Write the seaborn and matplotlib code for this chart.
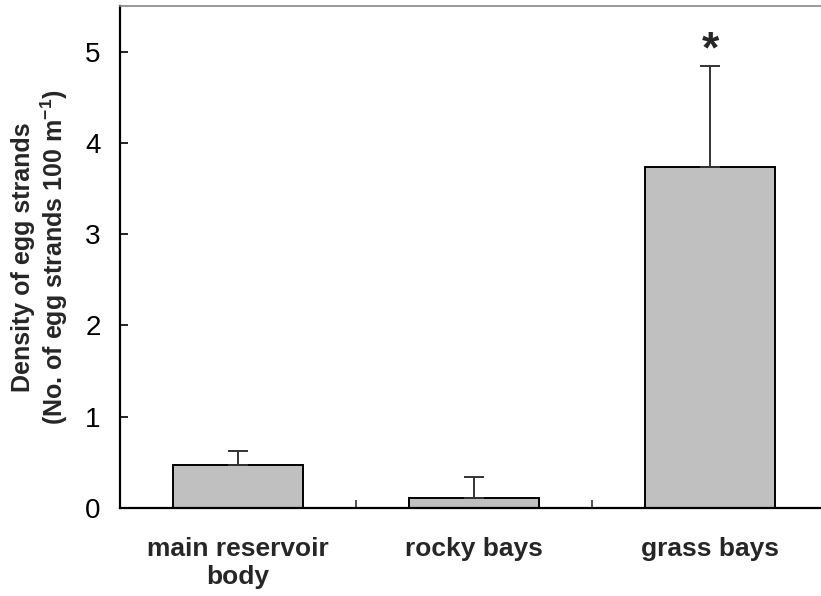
import matplotlib
matplotlib.use("Agg")
import matplotlib.pyplot as plt
import seaborn as sns
import pandas as pd

# Mean density of egg strands per habitat, with the upper standard error
habitats = ["main reservoir\nbody", "rocky bays", "grass bays"]
density = [0.47, 0.11, 3.74]
std_err = [0.15, 0.23, 1.10]
significant = [False, False, True]

sns.set_theme(style="white")
plt.rcParams["font.family"] = ["Liberation Sans", "DejaVu Sans"]
plt.rcParams["mathtext.default"] = "regular"

df = pd.DataFrame({"habitat": habitats, "density": density})

W, H = 821, 596
fig = plt.figure(figsize=(W / 100, H / 100), dpi=100)
ax = fig.add_axes([120 / W, 88 / H, 708 / W, 502 / H])

sns.barplot(data=df, x="habitat", y="density", color="#c0c0c0",
            edgecolor="black", linewidth=1.4, width=0.555,
            saturation=1, errorbar=None, ax=ax)

xs = list(range(len(habitats)))
ax.errorbar(xs, density, yerr=[[0] * len(std_err), std_err], fmt="none",
            ecolor="#333333", elinewidth=1.4, capsize=7, capthick=1.4)

for x, m, e, sig in zip(xs, density, std_err, significant):
    if sig:
        ax.annotate("*", (x, m + e), xytext=(0, -4), textcoords="offset points",
                    ha="center", va="bottom", fontsize=32, fontweight="bold")

ax.set_xlim(-0.5, 2.5)
ax.set_ylim(0, 5.5)
ax.set_yticks([0, 1, 2, 3, 4, 5])
ax.tick_params(axis="y", direction="in", length=6, width=1.2, labelsize=20,
               left=True, pad=14, colors="black")

# Category labels sit between boundary tick marks
ax.set_xticks([0.5, 1.5, 2.5])
ax.set_xticklabels([])
ax.set_xticks(xs, minor=True)
ax.set_xticklabels(habitats, minor=True, fontsize=19, fontweight="bold",
                   linespacing=1.2)
ax.tick_params(axis="x", which="major", direction="in", length=6, width=1.2,
               bottom=True, color="#333333")
ax.tick_params(axis="x", which="minor", length=0, pad=21)

ax.set_xlabel("")
ax.set_ylabel("Density of egg strands\n(No. of egg strands 100 m$^{-1}$)",
              fontsize=18, fontweight="bold", linespacing=1.12, labelpad=11)

for side in ["left", "bottom"]:
    ax.spines[side].set_color("black")
    ax.spines[side].set_linewidth(1.6)
ax.spines["top"].set_color("#888888")
ax.spines["top"].set_linewidth(1.2)
ax.spines["right"].set_visible(False)

fig.savefig("out.png", dpi=100)
